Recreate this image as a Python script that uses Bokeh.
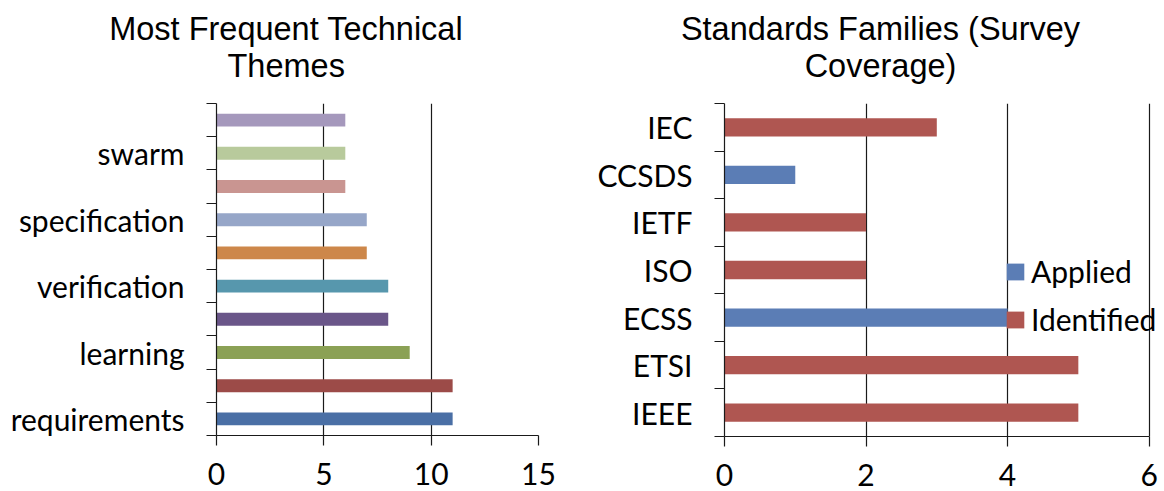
from bokeh.plotting import figure
from bokeh.layouts import row, column
from bokeh.models import FixedTicker, Label, Legend, LegendItem, ColumnDataSource, Range1d
from bokeh.embed import file_html
from bokeh.resources import INLINE

# ---------------- data ----------------
theme_labels = ["requirements", "", "learning", "", "verification", "", "specification", "", "swarm", ""]
theme_counts = [11, 11, 9, 8, 8, 7, 7, 6, 6, 6]
theme_colors = ["#4A6FA5", "#9C4B48", "#8BA155", "#6A5689", "#5797AD",
                "#CD874A", "#96A6C8", "#C99591", "#B8CA9C", "#A598BC"]
theme_ticks = [0, 5, 10, 15]

families = ["IEEE", "ETSI", "ECSS", "ISO", "IETF", "CCSDS", "IEC"]
applied = [0, 0, 4, 0, 0, 1, 0]
identified = [5, 5, 0, 2, 2, 0, 3]
family_ticks = [0, 2, 4, 6]
series_names = ["Applied", "Identified"]
series_colors = ["#5B7DB5", "#AF5651"]

title_left = ["Most Frequent Technical", "Themes"]
title_right = ["Standards Families (Survey", "Coverage)"]

# ---------------- style ----------------
LBL_FONT = "Lato"
TTL_FONT = "Liberation Sans"
LBL_SIZE = "30px"
TTL_SIZE = "32.5px"
INK = "#1a1a1a"
TITLE_H = 90


def style_axes(p, xticks, n, labels):
    p.outline_line_color = None
    p.background_fill_color = "white"
    p.border_fill_color = "white"
    p.xaxis.ticker = FixedTicker(ticks=xticks, minor_ticks=[])
    p.xaxis.bounds = (xticks[0], xticks[-1])
    p.xgrid.ticker = FixedTicker(ticks=xticks[1:], minor_ticks=[])
    p.xgrid.grid_line_color = INK
    p.xgrid.grid_line_width = 1.2
    p.ygrid.visible = False
    for ax in (p.xaxis[0], p.yaxis[0]):
        ax.axis_line_color = INK
        ax.axis_line_width = 1.2
        ax.major_tick_line_color = INK
        ax.major_tick_line_width = 1.2
        ax.minor_tick_line_color = INK
        ax.minor_tick_line_width = 1.2
        ax.major_label_text_font = LBL_FONT
        ax.major_label_text_font_size = LBL_SIZE
        ax.major_label_text_color = "black"
    xa = p.xaxis[0]
    xa.major_tick_out = 10
    xa.major_tick_in = 0
    xa.minor_tick_out = 0
    xa.minor_tick_in = 0
    xa.major_label_standoff = 17
    ya = p.yaxis[0]
    major = [i + 1 for i, t in enumerate(labels) if t]
    ya.ticker = FixedTicker(ticks=major, minor_ticks=[i + 0.5 for i in range(n + 1)])
    ya.major_label_overrides = {i + 1: t for i, t in enumerate(labels) if t}
    ya.major_tick_out = 0
    ya.major_tick_in = 0
    ya.minor_tick_out = 10
    ya.minor_tick_in = 0
    ya.major_label_standoff = 22


def title_fig(width, lines, xc):
    t = figure(width=width, height=TITLE_H, x_axis_type=None, y_axis_type=None,
               x_range=Range1d(0, 1), y_range=Range1d(0, 1),
               min_border=0, output_backend="svg", toolbar_location=None)
    t.outline_line_color = None
    t.grid.visible = False
    for txt, yb in zip(lines, [62, 25]):
        t.add_layout(Label(x=xc, y=yb, x_units="screen", y_units="screen", text=txt,
                           text_align="center", text_baseline="alphabetic",
                           text_font=TTL_FONT, text_font_size=TTL_SIZE, text_color="black"))
    return t


# ---------------- left chart ----------------
n1 = len(theme_counts)
p1 = figure(frame_width=322, frame_height=332,
            x_range=Range1d(0, theme_ticks[-1]), y_range=Range1d(0.5, n1 + 0.5),
            min_border_left=216, min_border_right=52, min_border_top=103 - TITLE_H,
            min_border_bottom=56, output_backend="svg", toolbar_location=None)
src1 = ColumnDataSource(dict(y=list(range(1, n1 + 1)), right=theme_counts, color=theme_colors))
p1.hbar(y="y", left=0, right="right", height=0.39, fill_color="color", line_color=None, source=src1)
style_axes(p1, theme_ticks, n1, theme_labels)

# ---------------- right chart ----------------
n2 = len(families)
fw2 = 436
p2 = figure(frame_width=fw2, frame_height=333,
            x_range=Range1d(0, family_ticks[-1] * fw2 / 424.6), y_range=Range1d(0.5, n2 + 0.5),
            min_border_left=134, min_border_right=4, min_border_top=102 - TITLE_H,
            min_border_bottom=56, output_backend="svg", toolbar_location=None)
src2 = ColumnDataSource(dict(y=list(range(1, n2 + 1)), Applied=applied, Identified=identified))
rs = p2.hbar_stack(series_names, y="y", height=0.385, color=series_colors,
                   line_color=None, source=src2)
style_axes(p2, family_ticks, n2, families)

legend = Legend(items=[LegendItem(label=nm, renderers=[r]) for nm, r in zip(series_names, rs)],
                location=(280, 99), orientation="vertical",
                glyph_width=22, glyph_height=21, label_height=36, spacing=12,
                label_standoff=5, padding=0, margin=0,
                border_line_color=None, background_fill_alpha=0,
                label_text_font=LBL_FONT, label_text_font_size=LBL_SIZE,
                label_text_color="black")
p2.add_layout(legend)

t1 = title_fig(590, title_left, 285.7)
t2 = title_fig(574, title_right, 290)

layout = column(row(t1, t2), row(p1, p2), margin=(0, 0, -20, 0))
open("out.html", "w").write(file_html(layout, INLINE))
